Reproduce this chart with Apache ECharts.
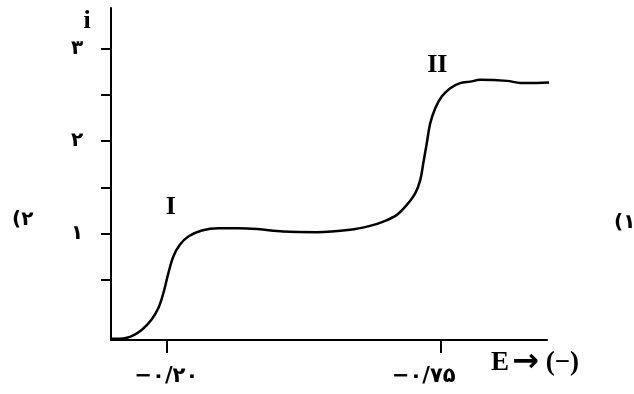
<!DOCTYPE html>
<html><head><meta charset="utf-8">
<script src="https://cdn.jsdelivr.net/npm/echarts@6/dist/echarts.min.js"></script>
<style>html,body{margin:0;padding:0;background:#fff}#c{width:634px;height:394px}</style>
</head><body><div id="c"></div>
<script>
const potentialE = [-0.087, -0.097, -0.127, -0.151, -0.170, -0.184, -0.194, -0.204, -0.214, -0.227, -0.244, -0.271, -0.304, -0.344, -0.383, -0.434, -0.501, -0.568, -0.608, -0.635, -0.662, -0.682, -0.699, -0.709, -0.715, -0.722, -0.729, -0.739, -0.752, -0.769, -0.789, -0.809, -0.829, -0.883, -0.910, -0.944, -0.984];
const currentI = [-0.137, -0.137, -0.116, -0.040, 0.068, 0.195, 0.357, 0.573, 0.752, 0.879, 0.969, 1.034, 1.059, 1.059, 1.049, 1.023, 1.016, 1.041, 1.084, 1.131, 1.203, 1.311, 1.438, 1.582, 1.762, 1.978, 2.195, 2.357, 2.482, 2.573, 2.627, 2.644, 2.663, 2.652, 2.630, 2.630, 2.641];
const xTickValues = [-0.20, -0.75];
const yTickValues = [0.5, 1, 1.5, 2, 2.5, 3];
const yLabelValues = [1, 2, 3];
const waveNames = ['I', 'II'];
const waveE = [-0.209, -0.743];
const waveI = [1.29, 2.82];
const sideTexts = ['(۲', '(۱'];
const xName = '{e|E} {a|→}  {e|(−)}';
const yName = 'i';

const faDigits = '۰۱۲۳۴۵۶۷۸۹';
function toFa(s) { return String(s).replace(/[0-9]/g, d => faDigits[+d]); }

const chart = echarts.init(document.getElementById('c'), null, {renderer: 'canvas'});
const serif = '"Liberation Serif", "DejaVu Serif", serif';
const digitFont = '"DejaVu Sans", sans-serif';

chart.setOption({
  animation: false,
  backgroundColor: '#ffffff',
  grid: {left: 111, right: 87, top: 8, bottom: 54, outerBoundsMode: 'none', containLabel: false},
  xAxis: {
    type: 'value', inverse: true, min: -0.963, max: -0.089,
    axisLine: {show: true, onZero: false, lineStyle: {color: '#000', width: 2}},
    axisTick: {show: true, customValues: xTickValues, length: 13, inside: false, lineStyle: {color: '#000', width: 2}},
    axisLabel: {show: true, customValues: xTickValues, margin: 26, color: '#000', fontFamily: digitFont, fontSize: 21, fontWeight: 'bold',
      formatter: v => {
        const t = '−' + toFa(Math.abs(v).toFixed(2)).replace('.', '/');
        return v < -0.5 ? '{s|' + t + '}' : '{c|' + t + '}';
      },
      rich: {
        c: {fontFamily: digitFont, fontSize: 21, fontWeight: 'bold', color: '#000'},
        s: {fontFamily: digitFont, fontSize: 21, fontWeight: 'bold', color: '#000', padding: [0, 34, 0, 0]}
      }},
    splitLine: {show: false},
    name: xName, nameLocation: 'start', nameGap: -12, nameMoveOverlap: false,
    nameTextStyle: {color: '#000', align: 'center', verticalAlign: 'middle', padding: [46, 0, 0, 0],
      rich: {
        e: {fontFamily: serif, fontWeight: 'bold', fontSize: 27, color: '#000'},
        a: {fontFamily: digitFont, fontWeight: 'bold', fontSize: 32, color: '#000'}
      }}
  },
  yAxis: {
    type: 'value', min: -0.15, max: 3.44,
    axisLine: {show: true, onZero: false, lineStyle: {color: '#000', width: 2}},
    axisTick: {show: true, customValues: yTickValues, length: 10, inside: false, lineStyle: {color: '#000', width: 2}},
    axisLabel: {show: true, customValues: yLabelValues, margin: 34, align: 'center', color: '#000', fontFamily: digitFont, fontSize: 20, fontWeight: 'bold',
      formatter: v => toFa(v)},
    splitLine: {show: false},
    name: yName, nameLocation: 'end', nameGap: -13,
    nameTextStyle: {fontFamily: serif, fontWeight: 'bold', fontSize: 26, color: '#000', align: 'center', verticalAlign: 'middle', padding: [0, 48, 0, 0]}
  },
  series: [{
    type: 'line',
    data: potentialE.map((e, k) => [e, currentI[k]]),
    smooth: 0.35,
    showSymbol: false,
    clip: false,
    lineStyle: {color: '#000', width: 2.5},
    markPoint: {
      symbol: 'circle', symbolSize: 0, silent: true,
      label: {show: true, position: 'inside', color: '#000', fontFamily: serif, fontWeight: 'bold', fontSize: 26, formatter: p => p.name},
      data: waveNames.map((n, k) => ({name: n, coord: [waveE[k], waveI[k]]}))
    }
  }],
  graphic: [
    {type: 'text', left: 12, top: 210, style: {text: sideTexts[0], font: 'bold 20px "DejaVu Sans", sans-serif', fill: '#000'}},
    {type: 'text', left: 614, top: 213, style: {text: sideTexts[1], font: 'bold 20px "DejaVu Sans", sans-serif', fill: '#000'}}
  ]
});
</script></body></html>
